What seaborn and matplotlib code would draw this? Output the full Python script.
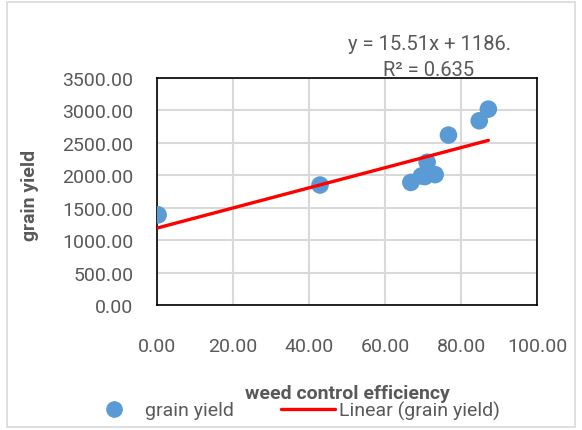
import matplotlib
matplotlib.use("Agg")
import matplotlib.pyplot as plt
import seaborn as sns
import pandas as pd
import numpy as np
from matplotlib.lines import Line2D
from matplotlib.patches import Rectangle

weed_control = [0.3, 42.9, 66.8, 69.6, 70.5, 73.2, 71.1, 76.7, 84.8, 87.2]
grain_yield = [1390, 1850, 1890, 1990, 1980, 2010, 2200, 2620, 2840, 3020]
slope = 15.51
intercept = 1186.0
x_ticks = [0, 20, 40, 60, 80, 100]
y_ticks = [0, 500, 1000, 1500, 2000, 2500, 3000, 3500]

sns.set_theme(style="white")
plt.rcParams['font.family'] = ['Roboto', 'DejaVu Sans']

grey = "#595959"
fig = plt.figure(figsize=(5.82, 4.31), dpi=100)
ax = fig.add_axes([157/582, 1 - 306/431, (537-157)/582, (306-79)/431])

df = pd.DataFrame({"weed control efficiency": weed_control, "grain yield": grain_yield})
sns.scatterplot(data=df, x="weed control efficiency", y="grain yield", ax=ax,
                s=160, color="#5b9bd5", edgecolor="none", zorder=3)
xs = np.array([min(weed_control), max(weed_control)])
ax.plot(xs, slope * xs + intercept, color="red", lw=2.4, zorder=4)

ax.set_xlim(0, 100)
ax.set_ylim(0, 3500)
ax.set_xticks(x_ticks)
ax.set_yticks(y_ticks)
ax.set_xticklabels([f"{v:.2f}" for v in x_ticks], color=grey, fontsize=14)
ax.set_yticklabels([f"{v:.2f}" for v in y_ticks], color=grey, fontsize=14)
ax.tick_params(axis="x", pad=23, length=0)
ax.tick_params(axis="y", pad=17, length=0)
ax.grid(True, color="#d9d9d9", lw=1.5)
ax.set_axisbelow(True)
for s in ax.spines.values():
    s.set_visible(True)
    s.set_color("black")
    s.set_linewidth(1.2)

ax.set_xlabel("")
ax.set_ylabel("")
fig.text(347/582, 1 - 394/431, "weed control efficiency", ha="center", va="center",
         fontsize=14, fontweight="bold", color=grey)
fig.text(30/582, 1 - 195/431, "grain yield", ha="center", va="center", rotation=90,
         fontsize=14, fontweight="bold", color=grey)

fig.text(430/582, 1 - 45/431, f"y = {slope}x + {intercept:.0f}.", ha="center", va="center",
         fontsize=14.5, color=grey)
fig.text(429/582, 1 - 70/431, "R² = 0.635", ha="center", va="center",
         fontsize=14.5, color=grey)

handles = [Line2D([], [], marker="o", ls="none", color="#5b9bd5", markersize=11),
           Line2D([], [], color="red", lw=2.4)]
fig.legend(handles, ["grain yield", "Linear (grain yield)"], loc="center left",
           bbox_to_anchor=(87/582, 1 - 411/431), ncol=2, frameon=False,
           fontsize=14, labelcolor=grey, handlelength=2.8, columnspacing=2.4,
           handletextpad=0.2, borderpad=0, borderaxespad=0)

fig.patches.append(Rectangle((7/582, 3/431), 568/582, 425/431, transform=fig.transFigure,
                             fill=False, edgecolor="#d9d9d9", lw=1.2))
fig.savefig("out.png", dpi=100)
